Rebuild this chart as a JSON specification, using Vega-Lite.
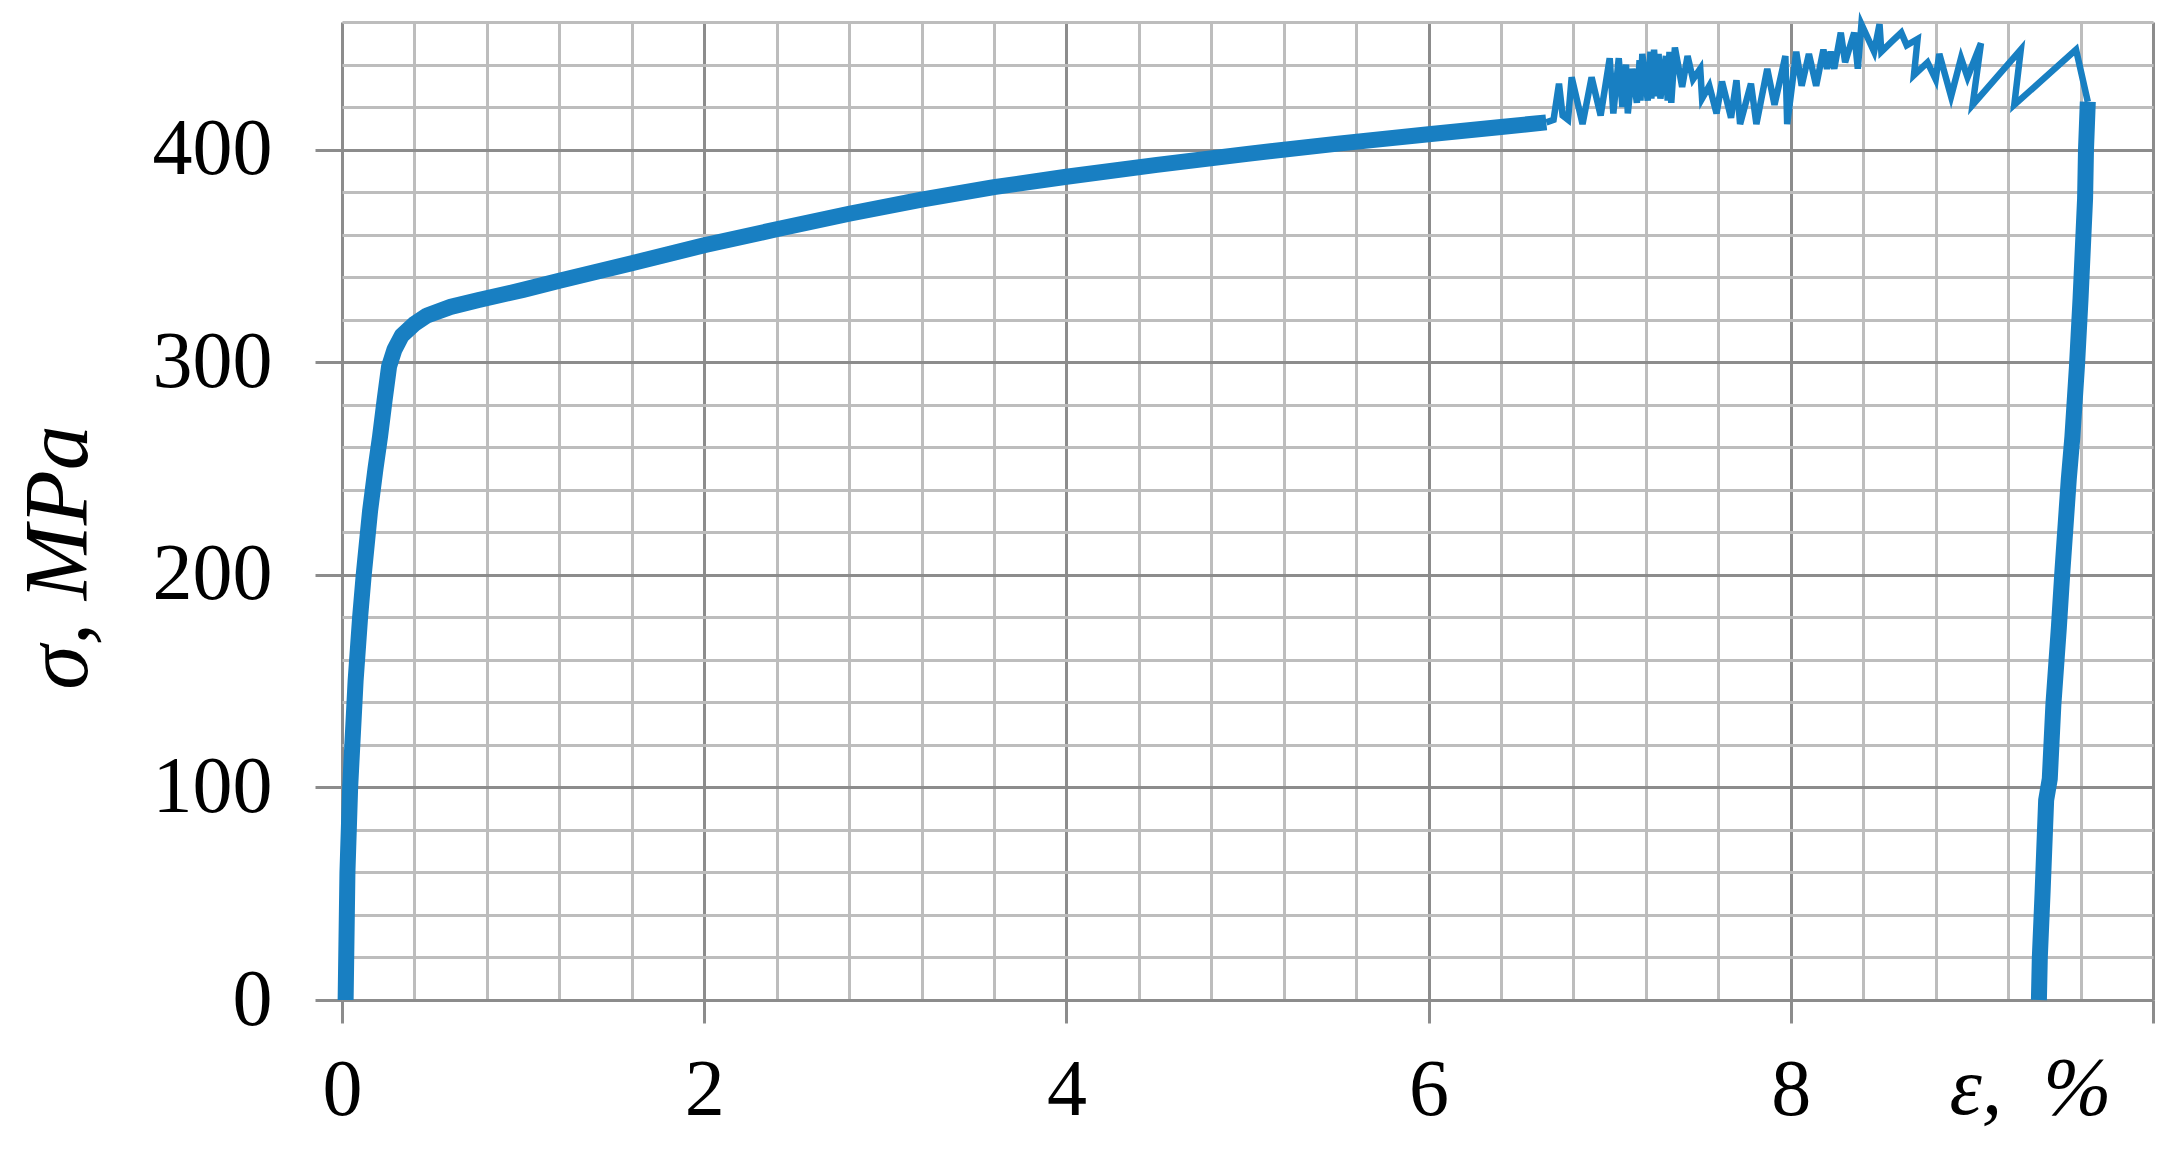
{
  "$schema": "https://vega.github.io/schema/vega-lite/v6.json",
  "autosize": "none",
  "width": 1811,
  "height": 978,
  "padding": {"left": 342, "top": 22, "right": 21, "bottom": 151},
  "background": "white",
  "config": {"view": {"stroke": null}},
  "data": {"values": [
    {"i":0,"e":0.02,"s":0,"g":"a"},{"i":1,"e":0.025,"s":30,"g":"a"},{"i":2,"e":0.03,"s":60,"g":"a"},{"i":3,"e":0.045,"s":100,"g":"a"},{"i":4,"e":0.075,"s":150,"g":"a"},{"i":5,"e":0.1,"s":180,"g":"a"},{"i":6,"e":0.12,"s":200,"g":"a"},{"i":7,"e":0.155,"s":230,"g":"a"},{"i":8,"e":0.185,"s":250,"g":"a"},{"i":9,"e":0.21,"s":265,"g":"a"},{"i":10,"e":0.235,"s":282,"g":"a"},{"i":11,"e":0.26,"s":298,"g":"a"},{"i":12,"e":0.29,"s":306,"g":"a"},{"i":13,"e":0.33,"s":312.5,"g":"a"},{"i":14,"e":0.4,"s":318,"g":"a"},{"i":15,"e":0.47,"s":322,"g":"a"},{"i":16,"e":0.6,"s":326,"g":"a"},{"i":17,"e":0.755,"s":329.2,"g":"a"},{"i":18,"e":1.0,"s":334,"g":"a"},{"i":19,"e":1.2,"s":338.3,"g":"a"},{"i":20,"e":1.4,"s":342.4,"g":"a"},{"i":21,"e":1.6,"s":346.5,"g":"a"},{"i":22,"e":1.8,"s":350.8,"g":"a"},{"i":23,"e":2.0,"s":355,"g":"a"},{"i":24,"e":2.4,"s":362.5,"g":"a"},{"i":25,"e":2.8,"s":369.8,"g":"a"},{"i":26,"e":3.2,"s":376.5,"g":"a"},{"i":27,"e":3.6,"s":382.3,"g":"a"},{"i":28,"e":4.0,"s":387.2,"g":"a"},{"i":29,"e":4.5,"s":392.8,"g":"a"},{"i":30,"e":5.0,"s":398,"g":"a"},{"i":31,"e":5.5,"s":402.8,"g":"a"},{"i":32,"e":6.0,"s":407.2,"g":"a"},{"i":33,"e":6.4,"s":410.6,"g":"a"},{"i":34,"e":6.65,"s":412.8,"g":"a"},
    {"i":35,"e":6.65,"s":412.8,"g":"b"},{"i":36,"e":6.69,"s":414,"g":"b"},{"i":37,"e":6.72,"s":431,"g":"b"},{"i":38,"e":6.74,"s":416,"g":"b"},{"i":39,"e":6.77,"s":414,"g":"b"},{"i":40,"e":6.79,"s":434,"g":"b"},{"i":41,"e":6.85,"s":412,"g":"b"},{"i":42,"e":6.9,"s":434,"g":"b"},{"i":43,"e":6.95,"s":416,"g":"b"},{"i":44,"e":7.0,"s":443,"g":"b"},{"i":45,"e":7.02,"s":417,"g":"b"},{"i":46,"e":7.05,"s":443,"g":"b"},{"i":47,"e":7.07,"s":420,"g":"b"},{"i":48,"e":7.09,"s":440,"g":"b"},{"i":49,"e":7.1,"s":417,"g":"b"},{"i":50,"e":7.125,"s":438,"g":"b"},{"i":51,"e":7.15,"s":422,"g":"b"},{"i":52,"e":7.165,"s":442,"g":"b"},{"i":53,"e":7.17,"s":423,"g":"b"},{"i":54,"e":7.18,"s":445,"g":"b"},{"i":55,"e":7.21,"s":423,"g":"b"},{"i":56,"e":7.225,"s":446,"g":"b"},{"i":57,"e":7.23,"s":424,"g":"b"},{"i":58,"e":7.245,"s":447,"g":"b"},{"i":59,"e":7.26,"s":425,"g":"b"},{"i":60,"e":7.27,"s":445,"g":"b"},{"i":61,"e":7.28,"s":424,"g":"b"},{"i":62,"e":7.31,"s":444,"g":"b"},{"i":63,"e":7.32,"s":423,"g":"b"},{"i":64,"e":7.33,"s":446,"g":"b"},{"i":65,"e":7.34,"s":422,"g":"b"},{"i":66,"e":7.36,"s":448,"g":"b"},{"i":67,"e":7.4,"s":429.5,"g":"b"},{"i":68,"e":7.43,"s":444,"g":"b"},{"i":69,"e":7.46,"s":433,"g":"b"},{"i":70,"e":7.5,"s":438,"g":"b"},{"i":71,"e":7.51,"s":424,"g":"b"},{"i":72,"e":7.55,"s":430,"g":"b"},{"i":73,"e":7.59,"s":417,"g":"b"},{"i":74,"e":7.62,"s":432,"g":"b"},{"i":75,"e":7.67,"s":415,"g":"b"},{"i":76,"e":7.7,"s":432.6,"g":"b"},{"i":77,"e":7.72,"s":412,"g":"b"},{"i":78,"e":7.78,"s":431,"g":"b"},{"i":79,"e":7.81,"s":412,"g":"b"},{"i":80,"e":7.87,"s":438,"g":"b"},{"i":81,"e":7.91,"s":421,"g":"b"},{"i":82,"e":7.97,"s":444,"g":"b"},{"i":83,"e":7.98,"s":412,"g":"b"},{"i":84,"e":8.03,"s":446,"g":"b"},{"i":85,"e":8.06,"s":430,"g":"b"},{"i":86,"e":8.1,"s":445,"g":"b"},{"i":87,"e":8.14,"s":430,"g":"b"},{"i":88,"e":8.18,"s":447,"g":"b"},{"i":89,"e":8.2,"s":438,"g":"b"},{"i":90,"e":8.22,"s":446,"g":"b"},{"i":91,"e":8.24,"s":438,"g":"b"},{"i":92,"e":8.276,"s":455,"g":"b"},{"i":93,"e":8.3,"s":441,"g":"b"},{"i":94,"e":8.35,"s":455,"g":"b"},{"i":95,"e":8.37,"s":438,"g":"b"},{"i":96,"e":8.39,"s":459,"g":"b"},{"i":97,"e":8.46,"s":446,"g":"b"},{"i":98,"e":8.49,"s":459,"g":"b"},{"i":99,"e":8.5,"s":446,"g":"b"},{"i":100,"e":8.56,"s":451,"g":"b"},{"i":101,"e":8.61,"s":455,"g":"b"},{"i":102,"e":8.64,"s":449,"g":"b"},{"i":103,"e":8.7,"s":452,"g":"b"},{"i":104,"e":8.68,"s":435,"g":"b"},{"i":105,"e":8.755,"s":441,"g":"b"},{"i":106,"e":8.8,"s":433,"g":"b"},{"i":107,"e":8.82,"s":445,"g":"b"},{"i":108,"e":8.885,"s":425,"g":"b"},{"i":109,"e":8.94,"s":443,"g":"b"},{"i":110,"e":8.976,"s":434,"g":"b"},{"i":111,"e":9.05,"s":450,"g":"b"},{"i":112,"e":9.004,"s":421,"g":"b"},{"i":113,"e":9.27,"s":447,"g":"b"},{"i":114,"e":9.234,"s":421,"g":"b"},{"i":115,"e":9.575,"s":447,"g":"b"},{"i":116,"e":9.64,"s":422.5,"g":"b"},
    {"i":117,"e":9.64,"s":422.5,"g":"c"},{"i":118,"e":9.63,"s":400,"g":"c"},{"i":119,"e":9.625,"s":377,"g":"c"},{"i":120,"e":9.6,"s":330,"g":"c"},{"i":121,"e":9.58,"s":298,"g":"c"},{"i":122,"e":9.555,"s":265,"g":"c"},{"i":123,"e":9.535,"s":245,"g":"c"},{"i":124,"e":9.5,"s":202,"g":"c"},{"i":125,"e":9.48,"s":175,"g":"c"},{"i":126,"e":9.45,"s":139,"g":"c"},{"i":127,"e":9.43,"s":104,"g":"c"},{"i":128,"e":9.41,"s":94,"g":"c"},{"i":129,"e":9.39,"s":50,"g":"c"},{"i":130,"e":9.375,"s":20,"g":"c"},{"i":131,"e":9.37,"s":0,"g":"c"}
  ]},
  "encoding": {
    "x": {
      "field": "e", "type": "quantitative",
      "scale": {"domain": [0, 10], "nice": false, "zero": false},
      "axis": {
        "values": [0,0.4,0.8,1.2,1.6,2,2.4,2.8,3.2,3.6,4,4.4,4.8,5.2,5.6,6,6.4,6.8,7.2,7.6,8,8.4,8.8,9.2,9.6,10],
        "grid": true,
        "gridColor": {"condition": {"test": "abs(datum.value/2 - round(datum.value/2)) < 0.001", "value": "#8c8c8c"}, "value": "#bdbdbd"},
        "gridWidth": 3,
        "domain": false,
        "ticks": true,
        "tickSize": 23,
        "tickWidth": 3,
        "tickColor": "#8c8c8c",
        "tickOpacity": {"condition": {"test": "abs(datum.value/2 - round(datum.value/2)) < 0.001", "value": 1}, "value": 0},
        "labelExpr": "abs(datum.value/2 - round(datum.value/2)) < 0.001 && datum.value < 9.99 ? format(datum.value, 'd') : ''",
        "labelFont": "Liberation Serif",
        "labelFontSize": 80,
        "labelColor": "black",
        "labelPadding": 28,
        "labelOverlap": false,
        "labelFlush": false,
        "labelBound": false,
        "title": "ε, \u00a0%",
        "titleFont": "Liberation Serif",
        "titleFontStyle": "italic",
        "titleFontWeight": "normal",
        "titleFontSize": 82,
        "titleColor": "black",
        "titleX": 1688,
        "titleY": 113,
        "titleAlign": "center",
        "titleBaseline": "alphabetic"
      }
    },
    "y": {
      "field": "s", "type": "quantitative",
      "scale": {"domain": [0, 460], "nice": false},
      "axis": {
        "values": [0,20,40,60,80,100,120,140,160,180,200,220,240,260,280,300,320,340,360,380,400,420,440,460],
        "grid": true,
        "gridColor": {"condition": {"test": "datum.value % 100 === 0", "value": "#8c8c8c"}, "value": "#bdbdbd"},
        "gridWidth": 3,
        "domain": false,
        "ticks": true,
        "tickSize": 27,
        "tickWidth": 3,
        "tickColor": "#8c8c8c",
        "tickOpacity": {"condition": {"test": "datum.value % 100 === 0", "value": 1}, "value": 0},
        "labelExpr": "datum.value % 100 === 0 ? format(datum.value, 'd') : ''",
        "labelFont": "Liberation Serif",
        "labelFontSize": 80,
        "labelColor": "black",
        "labelPadding": 43,
        "labelOverlap": false,
        "labelFlush": false,
        "labelBound": false,
        "title": "σ, MPa",
        "titleFont": "Liberation Serif",
        "titleFontStyle": "italic",
        "titleFontWeight": "normal",
        "titleFontSize": 90,
        "titleColor": "black",
        "titleAngle": -90,
        "titleX": -256,
        "titleY": 535,
        "titleAlign": "center",
        "titleBaseline": "alphabetic"
      }
    },
    "order": {"field": "i", "type": "quantitative"},
    "detail": {"field": "g", "type": "nominal"}
  },
  "layer": [
    {
      "transform": [{"filter": "datum.g !== 'b'"}],
      "mark": {"type": "line", "color": "#187fc2", "strokeWidth": 16, "strokeJoin": "round", "strokeCap": "butt"}
    },
    {
      "transform": [{"filter": "datum.g === 'b'"}],
      "mark": {"type": "line", "color": "#187fc2", "strokeWidth": 6.5, "strokeJoin": "miter"}
    }
  ]
}
